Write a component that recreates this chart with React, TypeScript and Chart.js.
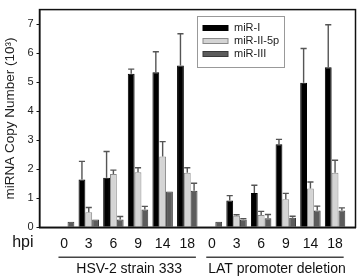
import { useEffect, useRef } from "react";
import { Chart, registerables } from "chart.js";

Chart.register(...registerables);

const FONT = '"Liberation Sans", Arial, sans-serif';

// hours post infection, two viral strains side by side
const hpiLabels = ["0", "3", "6", "9", "14", "18", "0", "3", "6", "9", "14", "18"];
const strainNames = ["HSV-2 strain 333", "LAT promoter deletion"];
const strainFirst = [0, 6];
const strainLast = [5, 11];

// miRNA copy number (x10^3), mean and upper error
const miR1 = [0, 1.65, 1.71, 5.29, 5.34, 5.57, 0, 0.92, 1.18, 2.86, 4.98, 5.51];
const miR1Err = [0, 0.62, 0.9, 0.16, 0.71, 1.1, 0, 0.17, 0.27, 0.17, 1.18, 1.47];
const miR2 = [0, 0.52, 1.84, 1.9, 2.44, 1.88, 0, 0.4, 0.42, 0.97, 1.34, 1.88];
const miR2Err = [0, 0.16, 0.13, 0.15, 0.51, 0.17, 0, 0.03, 0.13, 0.2, 0.22, 0.43];
const miR3 = [0.19, 0.27, 0.27, 0.61, 1.23, 1.26, 0.19, 0.27, 0.31, 0.33, 0.58, 0.58];
const miR3Err = [0, 0, 0.1, 0.11, 0, 0.26, 0, 0.03, 0.13, 0.05, 0.15, 0.09];

const yTicks = [0, 1, 2, 3, 4, 5, 6, 7];

const seriesNames = ["miR-I", "miR-II-5p", "miR-III"];
const seriesFill = ["#000000", "#d4d4d4", "#5c5c5c"];
const seriesEdge = ["#000000", "#8a8a8a", "#3a3a3a"];
const seriesValues = [miR1, miR2, miR3];
const seriesErrors = [miR1Err, miR2Err, miR3Err];

const errorBars = {
  id: "errorBars",
  afterDatasetsDraw(chart: any) {
    const { ctx } = chart;
    const y = chart.scales.y;
    ctx.save();
    ctx.strokeStyle = "#555";
    ctx.lineWidth = 1.4;
    chart.data.datasets.forEach((ds: any, di: number) => {
      const meta = chart.getDatasetMeta(di);
      meta.data.forEach((bar: any, i: number) => {
        const err = ds.errors[i];
        const v = ds.data[i].y;
        if (!err || !v) return;
        const top = y.getPixelForValue(v + err);
        const half = bar.width * 0.45;
        ctx.beginPath();
        ctx.moveTo(bar.x, bar.y);
        ctx.lineTo(bar.x, top);
        ctx.moveTo(bar.x - half, top);
        ctx.lineTo(bar.x + half, top);
        ctx.stroke();
      });
    });
    ctx.restore();
  },
};

const decorations = {
  id: "decorations",
  afterDraw(chart: any) {
    const { ctx, chartArea } = chart;
    const x = chart.scales.x;
    ctx.save();
    // frame
    ctx.strokeStyle = "#111";
    ctx.lineWidth = 1.5;
    ctx.strokeRect(chartArea.left, chartArea.top, chartArea.right - chartArea.left, chartArea.bottom - chartArea.top);

    // "hpi" row label
    ctx.fillStyle = "#111";
    ctx.font = `16px ${FONT}`;
    ctx.textAlign = "right";
    ctx.textBaseline = "middle";
    ctx.fillText("hpi", chartArea.left - 6, chartArea.bottom + 15);

    // strain group lines and names
    ctx.strokeStyle = "#444";
    ctx.lineWidth = 1.5;
    ctx.font = `14px ${FONT}`;
    ctx.textAlign = "center";
    strainNames.forEach((name, g) => {
      const x0 = x.getPixelForValue(strainFirst[g] - 0.23);
      const x1 = x.getPixelForValue(strainLast[g] + 0.35);
      ctx.beginPath();
      ctx.moveTo(x0, chartArea.bottom + 30);
      ctx.lineTo(x1, chartArea.bottom + 30);
      ctx.stroke();
      ctx.fillText(name, (x0 + x1) / 2 + 2, chartArea.bottom + 42);
    });

    // legend box
    const lx = 197, ly = 16, lw = 87, lh = 51;
    ctx.strokeStyle = "#999";
    ctx.lineWidth = 1;
    ctx.strokeRect(lx + 0.5, ly + 0.5, lw, lh);
    ctx.font = `11px ${FONT}`;
    ctx.textAlign = "left";
    chart.data.datasets.forEach((ds: any, i: number) => {
      const cy = ly + 12 + i * 13;
      ctx.fillStyle = ds.backgroundColor;
      ctx.fillRect(lx + 6, cy - 2.5, 25, 5);
      ctx.strokeStyle = ds.borderColor;
      ctx.strokeRect(lx + 6, cy - 2.5, 25, 5);
      ctx.fillStyle = "#222";
      ctx.fillText(ds.label, lx + 37, cy);
    });
    ctx.restore();
  },
};

export default function App() {
  const ref = useRef<HTMLCanvasElement>(null);

  useEffect(() => {
    if (!ref.current) return;
    const chart = new Chart(ref.current, {
      type: "bar",
      data: {
        datasets: seriesNames.map((name, s) => ({
          label: name,
          data: seriesValues[s].map((v, i) => ({ x: i, y: v })),
          errors: seriesErrors[s],
          backgroundColor: seriesFill[s],
          borderColor: seriesEdge[s],
          borderWidth: 1,
          barPercentage: 1,
          categoryPercentage: 0.83,
        })) as any,
      },
      options: {
        responsive: false,
        animation: false,
        layout: { padding: { left: 0, top: 5, right: 4.5, bottom: 0 } },
        plugins: { legend: { display: false }, tooltip: { enabled: false } },
        scales: {
          x: {
            type: "linear",
            min: -1.0,
            max: 11.83,
            offset: false,
            grid: { display: false, drawTicks: false },
            border: { display: true, color: "#111", width: 1.5 },
            afterBuildTicks: (scale: any) => {
              scale.ticks = hpiLabels.map((_, i) => ({ value: i }));
            },
            afterFit: (scale: any) => {
              scale.height = 52.7;
            },
            ticks: {
              autoSkip: false,
              maxRotation: 0,
              padding: 8,
              color: "#111",
              font: { family: FONT, size: 14 },
              callback: (v: any) => hpiLabels[v] ?? "",
            },
          },
          y: {
            min: 0,
            max: 7.5,
            afterBuildTicks: (scale: any) => {
              scale.ticks = yTicks.map((v) => ({ value: v }));
            },
            afterFit: (scale: any) => {
              scale.width = 39.5;
            },
            grid: { display: true, drawOnChartArea: false, drawTicks: true, tickLength: 3, color: "#111" },
            border: { display: true, color: "#111", width: 1.5 },
            ticks: {
              padding: 3,
              color: "#222",
              font: { family: FONT, size: 11 },
            },
            title: {
              display: true,
              text: "miRNA Copy Number (10³)",
              color: "#222",
              font: { family: FONT, size: 13.5 },
              padding: { top: 2, bottom: 0 },
            },
          },
        },
      },
      plugins: [errorBars, decorations],
    });
    return () => chart.destroy();
  }, []);

  return (
    <div style={{ position: "absolute", left: 0, top: 0, width: 360, height: 280 }}>
      <canvas ref={ref} width={360} height={280} />
    </div>
  );
}
